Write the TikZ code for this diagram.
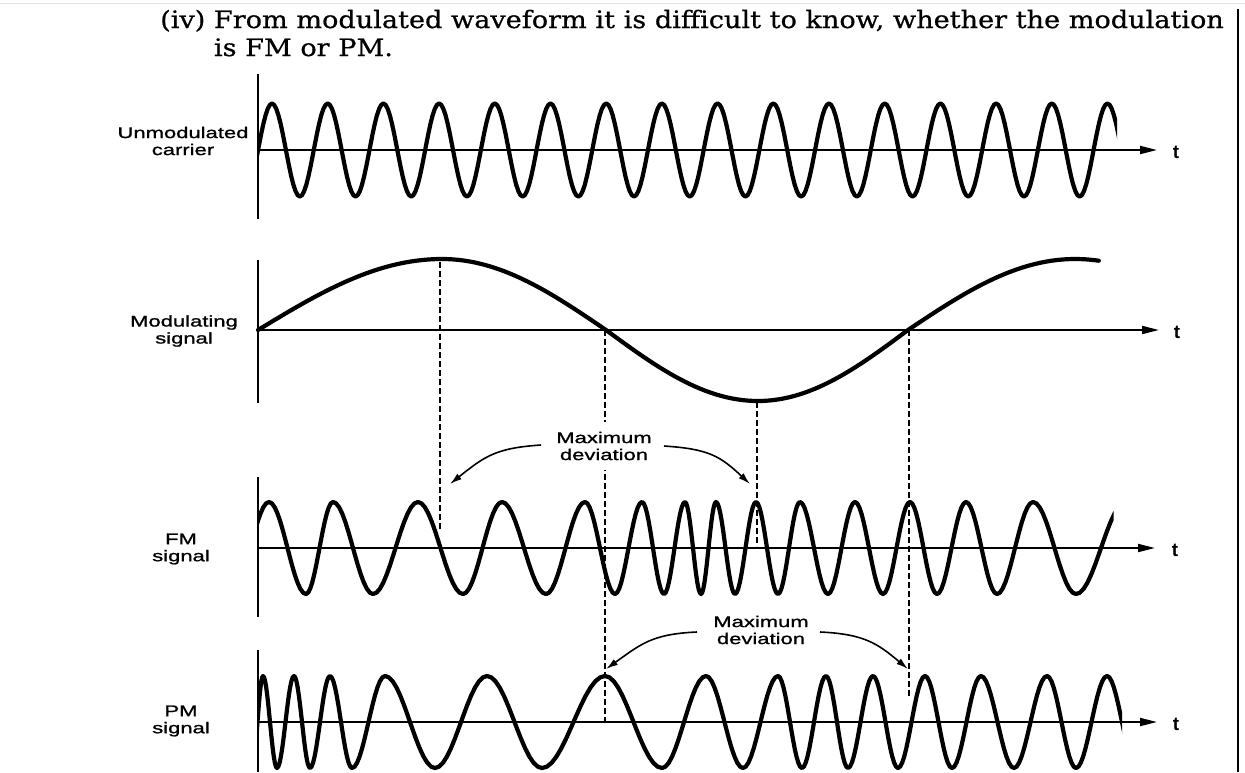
\documentclass[tikz,border=0pt]{standalone}
\usepackage{fontspec}
\setmainfont{DejaVu Serif}
\newfontfamily\headfont[FakeStretch=1.13,FakeBold=0.6]{DejaVu Serif}
\newfontfamily\lblfont[FakeStretch=1.42,FakeBold=1.2]{Liberation Sans}
\newfontfamily\tfont{Liberation Sans}
\usetikzlibrary{arrows.meta}
\begin{document}
\begin{tikzpicture}[x=1pt,y=-1pt,
  wave/.style={line width=4.2pt, line join=round, line cap=round},
  axis/.style={line width=1.9pt},
  taxis/.style={line width=1.9pt, -{Triangle[length=17pt,width=8pt]}},
  dline/.style={line width=2.2pt, dash pattern=on 6pt off 3pt},
  marrow/.style={line width=1.6pt, -{Latex[length=12pt,width=7pt]}},
  lbl/.style={font=\lblfont\fontsize{15.5}{17}\selectfont, align=center, inner sep=1pt},
  tlbl/.style={font=\tfont\bfseries\fontsize{19}{19}\selectfont, inner sep=0pt}]
\useasboundingbox (0,0) rectangle (1245,772);
% page edges
\draw[black!12, line width=1pt] (0,3) -- (1245,3);
\draw[line width=2.4pt] (1238,9) -- (1238,772);
% heading
\node[anchor=base west, font=\headfont\fontsize{24}{28}\selectfont, inner sep=0pt] (head) at (160,28)
  {\begin{tabular}[t]{@{}l@{\ }l@{}}(iv) & From modulated waveform it is difficult to know, whether the modulation\\ & is FM or PM.\end{tabular}};
% axes
\draw[axis] (258,74) -- (258,219);
\draw[taxis] (258,150) -- (1157,150);
\draw[axis] (258,260) -- (258,403);
\draw[taxis] (258,330) -- (1159,330);
\draw[axis] (258,477) -- (258,617);
\draw[taxis] (258,548) -- (1155,548);
\draw[axis] (258,650) -- (258,772);
\draw[taxis] (258,722) -- (1157,722);
\node[tlbl] (t1) at (1176,152) {t};
\node[tlbl] (t2) at (1177,332) {t};
\node[tlbl] (t3) at (1175,550) {t};
\node[tlbl] (t4) at (1176,724) {t};
% dashed guides
\coordinate (d1t) at (440,262); \coordinate (d1b) at (440,530);
\coordinate (d2t) at (605,330); \coordinate (d2b) at (605,722);
\coordinate (d3t) at (757,402); \coordinate (d3b) at (757,546);
\coordinate (d4t) at (909,330); \coordinate (d4b) at (909,697);
\draw[dline] (d1t) -- (d1b);
\draw[dline] (d2t) -- (d2b);
\draw[dline] (d3t) -- (d3b);
\draw[dline] (d4t) -- (d4b);
% carrier
\begin{scope}
\clip (258,60) rectangle (1117,230);
\draw[wave] (244.15,196.5) \foreach \k in {0,...,15}{
  -- plot[domain=0:1,samples=14] ({272+55.7*\k-27.85+27.85*\x},{150+46.5*cos(180*\x)})
  -- plot[domain=0:1,samples=14] ({272+55.7*\k+27.85*\x},{150-46.5*cos(180*\x)}) };
\end{scope}
% modulating signal
\draw[wave] (258,330)
  -- plot[domain=0:1,samples=30] ({258+184*\x},{330-71*sin(90*\x)})
  -- plot[domain=0:1,samples=30] ({442+164*\x},{330-71*cos(90*\x)})
  -- plot[domain=0:1,samples=30] ({606+152*\x},{330+71*sin(90*\x)})
  -- plot[domain=0:1,samples=30] ({758+150*\x},{330+71*cos(90*\x)})
  -- plot[domain=0:1,samples=30] ({908+167*\x},{330-71*sin(90*\x)})
  -- plot[domain=0:0.14,samples=6] ({1075+170*\x},{330-71*cos(90*\x)});
% FM signal
\begin{scope}
\clip (258,460) rectangle (1113.5,640);
\draw[wave] (232,594) \foreach \ea/\eb/\es in {232/269/-1, 269/306/1, 306/333/-1, 333/373/1,
  373/418/-1, 418/463/1, 463/502/-1, 502/546/1, 546/585/-1, 585/615/1, 615/642/-1, 642/664/1,
  664/685/-1, 685/701/1, 701/716/-1, 716/735/1, 735/756/-1, 756/778/1, 778/800/-1, 800/828/1,
  828/855/-1, 855/883/1, 883/910/-1, 910/937/1, 937/966/-1, 966/997/1, 997/1033/-1, 1033/1076/1,
  1076/1126/-1}{
  -- plot[domain=0:1,samples=14] ({\ea+(\eb-\ea)*\x},{548-(\es)*46*cos(180*\x)}) };
\end{scope}
% PM signal
\begin{scope}
\clip (258,630) rectangle (1122,780);
\draw[wave] (252,768) \foreach \ea/\eb/\es in {252/263/-1, 263/277/1, 277/294/-1, 294/310/1,
  310/330/-1, 330/352/1, 352/385/-1, 385/435/1, 435/487/-1, 487/542/1, 542/605/-1, 605/662/1,
  662/706/-1, 706/743/1, 743/778/-1, 778/802/1, 802/826/-1, 826/848/1, 848/873/-1, 873/898/1,
  898/925/-1, 925/952/1, 952/981/-1, 981/1014/1, 1014/1047/-1, 1047/1076/1, 1076/1107/-1,
  1107/1137/1}{
  -- plot[domain=0:1,samples=14] ({\ea+(\eb-\ea)*\x},{722-(\es)*46*cos(180*\x)}) };
\end{scope}
% labels
\node[lbl] (uc) at (183,141) {Unmodulated\\carrier};
\node[lbl] (ms) at (184,331) {Modulating\\signal};
\node[lbl] (fm) at (181,549) {FM\\signal};
\node[lbl] (pm) at (181,721) {PM\\signal};
\node[lbl, fill=white, inner xsep=1pt, inner ysep=10pt] (md1) at (604,446) {Maximum\\deviation};
\node[lbl] (md2) at (761,630) {Maximum\\deviation};
% deviation arrows
\coordinate (a1s) at (541,445); \coordinate (a1t) at (450,484);
\coordinate (a2s) at (664,446); \coordinate (a2t) at (750,484);
\coordinate (a3s) at (697,632); \coordinate (a3t) at (606,669);
\coordinate (a4s) at (820,632); \coordinate (a4t) at (908,669);
\draw[marrow] (a1s) .. controls +(-45,3) and +(35,-28) .. (a1t);
\draw[marrow] (a2s) .. controls +(45,3) and +(-30,-28) .. (a2t);
\draw[marrow] (a3s) .. controls +(-45,2) and +(35,-25) .. (a3t);
\draw[marrow] (a4s) .. controls +(45,2) and +(-30,-25) .. (a4t);
\end{tikzpicture}
\end{document}
